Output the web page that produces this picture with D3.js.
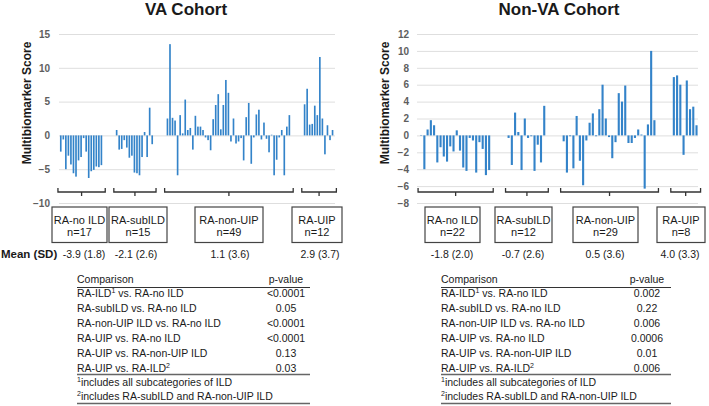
<!DOCTYPE html>
<html>
<head>
<meta charset="utf-8">
<script src="https://cdnjs.cloudflare.com/ajax/libs/d3/7.8.5/d3.min.js"></script>
<style>
body{margin:0;background:#fff;}
svg{display:block;font-family:"Liberation Sans",Arial,sans-serif;}
</style>
</head>
<body>
<div id="chart"></div>
<script>
// group names, same for both cohorts
var groupNames = ["RA-no ILD", "RA-subILD", "RA-non-UIP", "RA-UIP"];

// VA cohort - one score per patient
var vaNoIld = [-2.4,-0.6,-5.0,-3.0,-4.3,-5.6,-6.1,-3.7,-3.2,-0.4,-2.4,-6.3,-5.3,-5.1,-4.6,-4.7,-4.4];
var vaSubIld = [0.8,-2.1,-2.0,-0.7,-1.8,-3.3,-3.0,-5.5,-5.6,-5.9,-3.2,0.5,-3.2,4.1,-1.3];
var vaNonUip = [2.5,13.5,2.6,2.2,-5.9,3.0,0.3,5.3,0.8,1.1,-2.1,2.9,1.3,1.3,0.8,-0.3,-0.7,-2.2,2.4,4.5,
	6.1,0.9,4.5,8.2,6.3,-0.9,2.5,-1.2,-0.9,-0.4,-3.7,2.7,4.8,-4.2,-0.3,3.1,3.8,-0.6,1.9,-0.5,
	-2.5,0.1,-5.9,-3.6,-0.3,0.8,-5.9,1.3,3.0];
var vaUip = [4.6,6.9,1.6,1.7,4.4,3.0,11.6,2.5,-2.8,1.5,-0.7,0.8];
var vaMeans = ["-3.9 (1.8)", "-2.1 (2.6)", "1.1 (3.6)", "2.9 (3.7)"];
var vaTicks = [-10, -5, 0, 5, 10, 15];
var vaPvalues = ["<0.0001", "0.05", "<0.0001", "<0.0001", "0.13", "0.03"];

// non-VA cohort
var nvNoIld = [0.05,-4.0,0.7,1.8,1.2,-3.2,-1.4,-2.5,-3.1,-1.3,-1.9,0.6,-1.8,-3.8,-4.2,-0.3,-0.6,-4.4,-0.8,-1.6,-4.7,-4.1];
var nvSubIld = [-0.3,-3.5,2.7,0.4,-4.1,2.0,-0.3,-0.1,-4.2,-1.1,-3.2,3.5];
var nvNonUip = [-0.7,-4.4,-0.1,-3.9,2.3,-3.0,-5.9,-0.6,1.5,2.6,-0.1,3.1,6.0,2.0,-0.2,-2.7,-0.8,5.0,4.0,5.9,
	-0.9,-0.9,-0.3,0.7,0.1,-6.3,1.3,10.0,1.8];
var nvUip = [6.9,7.1,6.0,-2.3,6.5,3.1,3.4,1.2];
var nvMeans = ["-1.8 (2.0)", "-0.7 (2.6)", "0.5 (3.6)", "4.0 (3.3)"];
var nvTicks = [-8, -6, -4, -2, 0, 2, 4, 6, 8, 10, 12];
var nvPvalues = ["0.002", "0.22", "0.006", "0.0006", "0.01", "0.006"];

// table text (^n = superscript)
var comparisons = ["RA-ILD^1 vs. RA-no ILD", "RA-subILD vs. RA-no ILD", "RA-non-UIP ILD vs. RA-no ILD",
	"RA-UIP vs. RA-no ILD", "RA-UIP vs. RA-non-UIP ILD", "RA-UIP vs. RA-ILD^2"];
var footnotes = ["^1includes all subcategories of ILD", "^2includes RA-subILD and RA-non-UIP ILD"];

var W = 709, H = 406;
var BAR = "#3383c9", INK = "#1a1a1a";

var svg = d3.select("#chart").append("svg").attr("width", W).attr("height", H);

// write a string with ^n superscripts into a text element
function richText(sel, str){
	var parts = str.split(/\^(\d)/);
	var up = false;
	for(var i=0;i<parts.length;i++){
		if(parts[i] === "") { continue; }
		var t = sel.append("tspan").text(parts[i]);
		if(i % 2 === 1){
			t.attr("font-size", 7).attr("dy", -4);
			up = true;
		} else if(up){
			t.attr("dy", 4);
			up = false;
		}
	}
}

function drawPanel(cfg){
	var g = svg.append("g");
	var gap = 5;

	// lay groups out on one band axis with blank slots in between
	var slots = [], ranges = [], s = 0;
	cfg.groups.forEach(function(vals, gi){
		var first = s;
		vals.forEach(function(v){ slots.push({slot: s, v: v}); s++; });
		ranges.push([first, s-1]);
		if(gi < cfg.groups.length-1) s += gap;
	});
	var nSlots = s;

	var x = d3.scaleBand().domain(d3.range(nSlots))
		.range([cfg.x0, cfg.x0 + nSlots*cfg.step])
		.paddingInner(0.35).paddingOuter(0.175);
	var y = d3.scaleLinear().domain(cfg.domain).range([cfg.yBot, cfg.yTop]);

	// title
	g.append("text").attr("x", cfg.titleX).attr("y", 15).attr("text-anchor", "middle")
		.attr("font-size", 17).attr("font-weight", "bold").attr("fill", INK).text(cfg.title);

	// grid + tick labels
	var axis = d3.axisLeft(y).tickValues(cfg.ticks).tickSize(-(cfg.gridR - cfg.gridL))
		.tickPadding(cfg.gridL - cfg.labelR).tickFormat(d3.format("d"));
	var ax = g.append("g").attr("transform", "translate(" + cfg.gridL + ",0)").call(axis);
	ax.select(".domain").remove();
	ax.selectAll("line").attr("stroke", "#dedede");
	ax.selectAll("text").attr("font-size", 10).attr("font-weight", "bold").attr("fill", "#5e5e5e")
		.attr("font-family", "Liberation Sans, Arial, sans-serif");

	g.append("text").attr("transform", "translate(" + cfg.yTitleX + ",103) rotate(-90)")
		.attr("text-anchor", "middle").attr("dy", "0.35em")
		.attr("font-size", 12).attr("font-weight", "bold").attr("fill", INK).text("Multibiomarker Score");

	// bars
	g.append("g").selectAll("rect").data(slots).enter().append("rect")
		.attr("x", function(d){ return x(d.slot); })
		.attr("width", x.bandwidth())
		.attr("y", function(d){ return y(Math.max(0, d.v)); })
		.attr("height", function(d){ return Math.abs(y(d.v) - y(0)); })
		.attr("fill", BAR);

	// brackets, boxes, means
	ranges.forEach(function(r, gi){
		var xl = x(r[0]) - 2, xr = x(r[1]) + x.bandwidth() + 3;
		var mid = (xl + xr)/2;
		g.append("path")
			.attr("d", "M" + xl + ",188V192H" + xr + "V188M" + mid + ",192V196")
			.attr("fill", "none").attr("stroke", "#333").attr("stroke-width", 1.3);

		var cx = cfg.boxCx[gi];
		var bw = cfg.boxW[gi];
		g.append("rect").attr("x", cx - bw/2).attr("y", 207).attr("width", bw).attr("height", 35.5)
			.attr("fill", "#fff").attr("stroke", "#444").attr("stroke-width", 1.2);
		g.append("text").attr("x", cx).attr("y", 224).attr("text-anchor", "middle")
			.attr("font-size", 11).attr("fill", INK).text(groupNames[gi]);
		g.append("text").attr("x", cx).attr("y", 236).attr("text-anchor", "middle")
			.attr("font-size", 11).attr("fill", INK).text("n=" + cfg.groups[gi].length);
		g.append("text").attr("x", cfg.meanCx[gi]).attr("y", 258).attr("text-anchor", "middle")
			.attr("font-size", 10.5).attr("fill", INK).text(cfg.means[gi]);
	});

	// comparison table
	var tl = cfg.tableL, tr = cfg.tableR;
	g.append("text").attr("x", tl).attr("y", 283).attr("font-size", 10.5).attr("fill", INK).text("Comparison");
	g.append("text").attr("x", cfg.pX).attr("y", 283).attr("text-anchor", "middle")
		.attr("font-size", 10.5).attr("fill", INK).text("p-value");
	g.append("line").attr("x1", tl).attr("x2", tr).attr("y1", 287.5).attr("y2", 287.5)
		.attr("stroke", "#333").attr("stroke-width", 1);

	comparisons.forEach(function(c, i){
		var t = g.append("text").attr("x", tl).attr("y", 297 + i*15).attr("font-size", 10.5).attr("fill", INK);
		richText(t, c);
		g.append("text").attr("x", cfg.pX).attr("y", 297 + i*15).attr("text-anchor", "middle")
			.attr("font-size", 10.5).attr("fill", INK).text(cfg.pvals[i]);
	});
	g.append("line").attr("x1", tl).attr("x2", tr).attr("y1", 374.5).attr("y2", 374.5)
		.attr("stroke", "#666").attr("stroke-width", 1.6);
	footnotes.forEach(function(f, i){
		var t = g.append("text").attr("x", tl).attr("y", 386 + i*14).attr("font-size", 10.5).attr("fill", INK);
		richText(t, f);
	});
	g.append("line").attr("x1", tl).attr("x2", tr).attr("y1", 403.5).attr("y2", 403.5)
		.attr("stroke", "#666").attr("stroke-width", 1.4);
}

drawPanel({
	title: "VA Cohort", titleX: 186,
	groups: [vaNoIld, vaSubIld, vaNonUip, vaUip],
	means: vaMeans, pvals: vaPvalues,
	domain: [-10, 15], ticks: vaTicks,
	x0: 59.5, step: 2.54, yTop: 34, yBot: 203,
	gridL: 59, gridR: 335, labelR: 50, yTitleX: 27,
	boxW: [55, 58, 68, 50], boxCx: [79.5, 138, 229, 317], meanCx: [84, 136, 230, 320],
	tableL: 77, tableR: 310, pX: 286
});

drawPanel({
	title: "Non-VA Cohort", titleX: 559,
	groups: [nvNoIld, nvSubIld, nvNonUip, nvUip],
	means: nvMeans, pvals: nvPvalues,
	domain: [-8, 12], ticks: nvTicks,
	x0: 419.5, step: 3.24, yTop: 34, yBot: 203,
	gridL: 417, gridR: 698, labelR: 409, yTitleX: 385,
	boxW: [55, 57, 65, 48], boxCx: [452.5, 523.5, 605.5, 681], meanCx: [452, 523, 605, 680],
	tableL: 441, tableR: 671, pX: 647
});

// row label shared on the left
svg.append("text").attr("x", 1).attr("y", 258).attr("font-size", 11.5).attr("font-weight", "bold")
	.attr("fill", INK).text("Mean (SD)");
</script>
</body>
</html>
